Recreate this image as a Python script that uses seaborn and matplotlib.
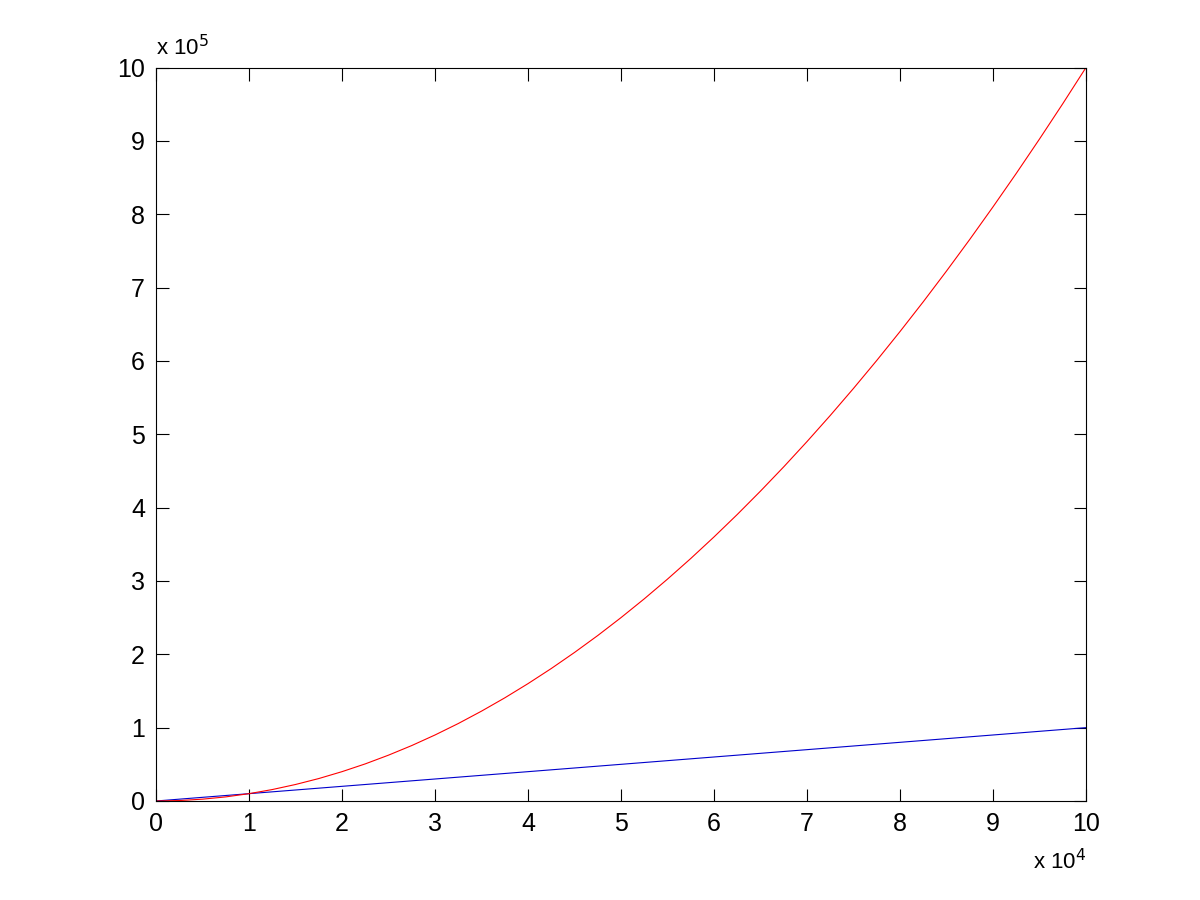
import numpy as np
import pandas as pd
import seaborn as sns
import matplotlib.pyplot as plt
from matplotlib.ticker import FuncFormatter, MultipleLocator

# x 값 (단위: x 10^4) 과 두 곡선의 y 값 (단위: x 10^5), 그림에서 읽은 값
x_vals = [0, 0.25, 0.5, 0.75, 1, 1.25, 1.5, 1.75, 2, 2.25, 2.5, 2.75, 3, 3.25, 3.5, 3.75,
          4, 4.25, 4.5, 4.75, 5, 5.25, 5.5, 5.75, 6, 6.25, 6.5, 6.75, 7, 7.25, 7.5, 7.75,
          8, 8.25, 8.5, 8.75, 9, 9.25, 9.5, 9.75, 10]
red_vals = [0, 0.006, 0.025, 0.056, 0.1, 0.156, 0.225, 0.306, 0.4, 0.506, 0.625, 0.756,
            0.9, 1.056, 1.225, 1.406, 1.6, 1.806, 2.025, 2.256, 2.5, 2.756, 3.025, 3.306,
            3.6, 3.906, 4.225, 4.556, 4.9, 5.256, 5.625, 6.006, 6.4, 6.806, 7.225, 7.656,
            8.1, 8.556, 9.025, 9.506, 10]
blue_vals = [0, 0.025, 0.05, 0.075, 0.1, 0.125, 0.15, 0.175, 0.2, 0.225, 0.25, 0.275,
             0.3, 0.325, 0.35, 0.375, 0.4, 0.425, 0.45, 0.475, 0.5, 0.525, 0.55, 0.575,
             0.6, 0.625, 0.65, 0.675, 0.7, 0.725, 0.75, 0.775, 0.8, 0.825, 0.85, 0.875,
             0.9, 0.925, 0.95, 0.975, 1]

df = pd.DataFrame({
    'x': np.array(x_vals) * 1e4,
    'red': np.array(red_vals) * 1e5,
    'blue': np.array(blue_vals) * 1e5,
})

sns.set_style("ticks")
plt.rcParams['font.family'] = ['Liberation Sans Narrow', 'Liberation Sans', 'DejaVu Sans']

fig = plt.figure(figsize=(12, 9), dpi=100)
ax = fig.add_axes([0.13, 0.11, 0.775, 0.815])

sns.lineplot(data=df, x='x', y='blue', color='#0000cc', linewidth=0.8, ax=ax)
sns.lineplot(data=df, x='x', y='red', color='#ff0000', linewidth=0.8, ax=ax)

ax.set_xlim(0, 1e5)
ax.set_ylim(0, 1e6)
ax.xaxis.set_major_locator(MultipleLocator(1e4))
ax.yaxis.set_major_locator(MultipleLocator(1e5))
ax.xaxis.set_major_formatter(FuncFormatter(lambda v, p: f"{v / 1e4:g}"))
ax.yaxis.set_major_formatter(FuncFormatter(lambda v, p: f"{v / 1e5:g}"))
ax.set_xlabel('')
ax.set_ylabel('')

for s in ax.spines.values():
    s.set_visible(True)
    s.set_linewidth(0.8)
    s.set_color('black')
ax.tick_params(direction='in', length=9, width=0.8, top=True, right=True,
               labelsize=18, colors='black', pad=8)

# 지수 표시
ax.text(0, 1.01, r'x 10$^5$', transform=ax.transAxes, fontsize=16,
        ha='left', va='bottom', color='black')
ax.text(1, -0.065, r'x 10$^4$', transform=ax.transAxes, fontsize=16,
        ha='right', va='top', color='black')

fig.savefig('out.png', dpi=100, facecolor='white')
